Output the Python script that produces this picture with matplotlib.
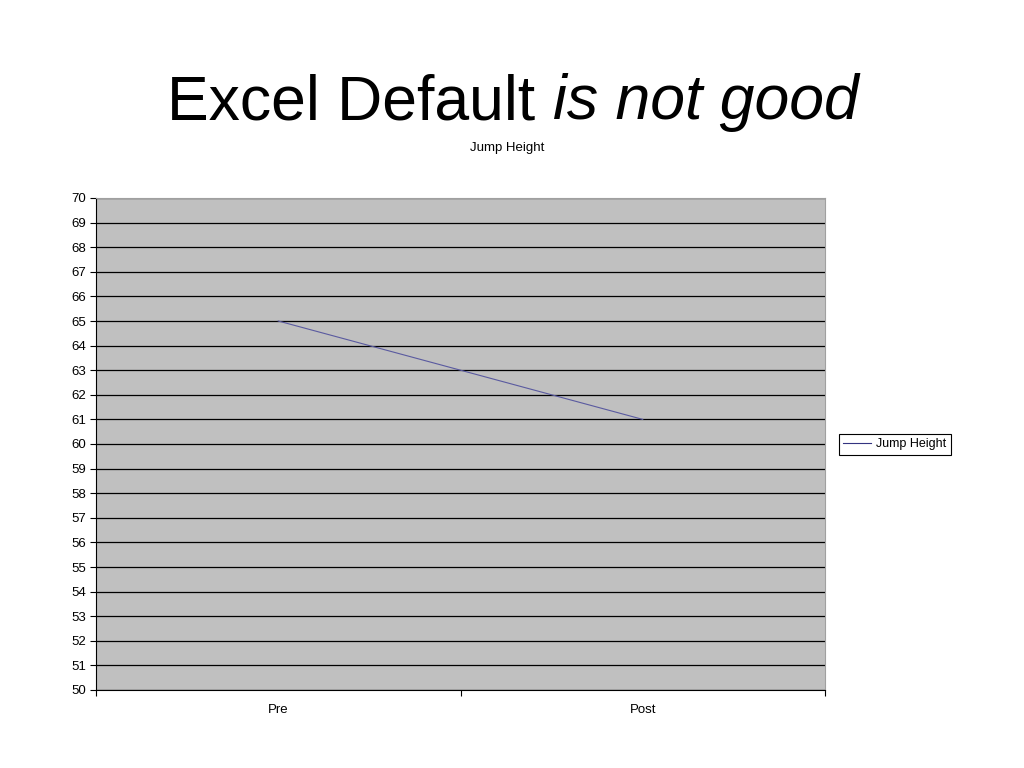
import matplotlib
matplotlib.use("Agg")
import matplotlib.pyplot as plt

categories = ["Pre", "Post"]
jump_height = [65, 61]
series_name = "Jump Height"

plt.rcParams['font.family'] = ['Liberation Sans', 'DejaVu Sans']

fig = plt.figure(figsize=(10.24, 7.68), dpi=100)
fig.patch.set_facecolor("white")

fig.text(167 / 1024, 1 - 103 / 768, "Excel Default", ha="left", va="center", fontsize=45)
fig.text(553 / 1024, 1 - 103 / 768, "is not good", ha="left", va="center", fontsize=45, style="italic")

fig.text(507 / 1024, 1 - 148 / 768, "Jump Height", ha="center", va="center", fontsize=9.5)

ax = fig.add_axes([96 / 1024, 1 - 690 / 768, (825 - 96) / 1024, (690 - 198) / 768])
ax.set_facecolor("#c0c0c0")

x = [i + 0.5 for i in range(len(categories))]
ax.plot(x, jump_height, color="#5a5aa0", lw=0.8, label=series_name)

ax.set_xlim(0, len(categories))
ax.set_ylim(50, 70)
ax.set_yticks(range(50, 71))
ax.yaxis.grid(True, color="black", lw=0.9)
ax.set_axisbelow(True)

ax.set_xticks(range(len(categories) + 1))
ax.set_xticklabels([])
ax.set_xticks(x, minor=True)
ax.set_xticklabels(categories, minor=True)
ax.tick_params(axis="x", which="minor", length=0, pad=10, labelsize=9.5)
ax.tick_params(axis="x", which="major", length=4, color="black", direction="out")
ax.tick_params(axis="y", length=4, labelsize=9.5, pad=3)

for s in ["top", "right"]:
    ax.spines[s].set_color("#a0a0a0")
    ax.spines[s].set_linewidth(0.8)
for s in ["left", "bottom"]:
    ax.spines[s].set_color("black")
    ax.spines[s].set_linewidth(0.8)

leg = fig.legend(loc="center left", bbox_to_anchor=(839 / 1024, 1 - 444.5 / 768),
                 fancybox=False, edgecolor="black", framealpha=1, fontsize=9,
                 handlelength=2.2, borderpad=0.35, handletextpad=0.4, borderaxespad=0)
leg.get_frame().set_linewidth(0.8)
for l in leg.get_lines():
    l.set_color("#333380")

fig.savefig("out.png", dpi=100)
